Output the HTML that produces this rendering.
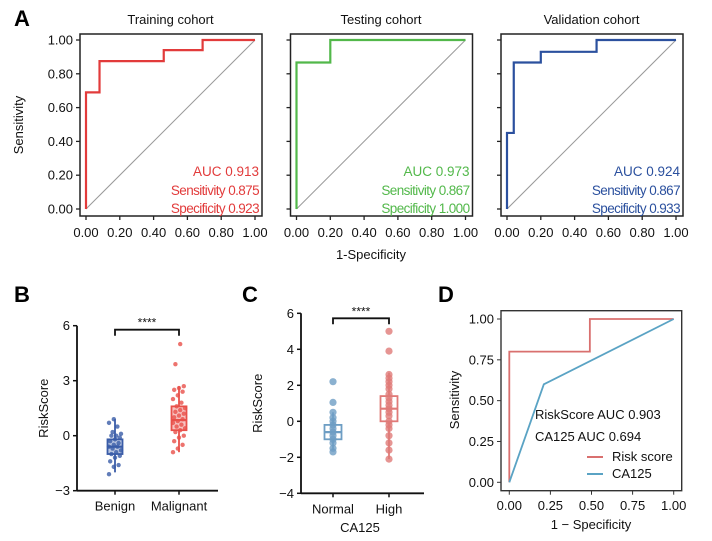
<!DOCTYPE html>
<html><head><meta charset="utf-8"><style>
body{margin:0;background:#fff;}
svg{display:block;font-family:"Liberation Sans",Arial,sans-serif;}
</style></head><body>
<svg id="fig" width="712" height="541" viewBox="0 0 712 541"></svg>
<script>
// ---------- Data ----------
const rocTicks = [0, 0.2, 0.4, 0.6, 0.8, 1.0];
const rocTickLabels = ["0.00","0.20","0.40","0.60","0.80","1.00"];
const trainFpr = [0,0,0.08,0.08,0.46,0.46,0.69,0.69,1];
const trainTpr = [0,0.69,0.69,0.875,0.875,0.94,0.94,1,1];
const testFpr = [0,0,0.2,0.2,1];
const testTpr = [0,0.867,0.867,1,1];
const valFpr = [0,0,0.04,0.04,0.2,0.2,0.53,0.53,1];
const valTpr = [0,0.45,0.45,0.867,0.867,0.93,0.93,1,1];
const cohortTitles = ["Training cohort","Testing cohort","Validation cohort"];
const cohortStats = [["AUC 0.913","Sensitivity 0.875","Specificity 0.923"],["AUC 0.973","Sensitivity 0.867","Specificity 1.000"],["AUC 0.924","Sensitivity 0.867","Specificity 0.933"]];

const bCategories = ["Benign","Malignant"];
const bTicks = [-3,0,3,6];
const bBox = [[-2.0,-1.0,-0.6,-0.2,0.9],[-0.9,0.3,0.85,1.6,2.7]];
const bPoints = [[-2.1,-1.7,-1.6,-1.4,-1.2,-1.1,-1.0,-0.9,-0.8,-0.7,-0.6,-0.6,-0.5,-0.4,-0.3,-0.2,-0.1,0,0,0.1,0.2,0.5,0.7,0.9],
 [-0.9,-0.7,-0.5,-0.3,-0.1,0,0.2,0.3,0.4,0.5,0.6,0.7,0.8,0.9,1.0,1.1,1.2,1.3,1.4,1.5,1.6,1.8,2.0,2.2,2.4,2.5,2.6,2.7,3.9,5.0]];

const cCategories = ["Normal","High"];
const cTicks = [-4,-2,0,2,4,6];
const cBox = [[-1.6,-1.0,-0.6,-0.2,0.5],[-2.1,0,0.7,1.4,2.7]];
const cPoints = [[-1.7,-1.5,-1.2,-1.0,-0.8,-0.6,-0.4,-0.2,0,0.2,0.5,1.05,2.2],
 [-2.1,-1.6,-1.2,-0.8,-0.4,-0.2,0,0.3,0.5,0.7,0.9,1.1,1.3,1.5,1.8,2.0,2.2,2.4,2.6,3.9,5.0]];

const dTicks = [0,0.25,0.5,0.75,1];
const dTickLabels = ["0.00","0.25","0.50","0.75","1.00"];
const riskFpr = [0,0,0.49,0.49,1];
const riskTpr = [0,0.8,0.8,1,1];
const caFpr = [0,0.21,1];
const caTpr = [0,0.6,1];

// ---------- Helpers ----------
const NS="http://www.w3.org/2000/svg";
const svg=document.getElementById('fig');
function mk(tag,attrs,parent){const e=document.createElementNS(NS,tag);for(const k in attrs)e.setAttribute(k,attrs[k]);(parent||svg).appendChild(e);return e;}
function txt(s,x,y,attrs,parent){const e=mk('text',Object.assign({x:x,y:y,'font-size':12,fill:'#111'},attrs||{}),parent);e.textContent=s;return e;}
function lin(d0,d1,r0,r1){return v=>r0+(v-d0)/(d1-d0)*(r1-r0);}

[["A",14,26],["B",14,302],["C",242,302],["D",438,302]].forEach(p=>{
  const t=txt(p[0],p[1],p[2],{'font-size':22,'font-weight':'bold',fill:'#000'});
  
  
});

// ---------- Panel A ----------
const aColors=["#e23b3b","#52b84a","#2b509e"];
const aData=[[trainFpr,trainTpr],[testFpr,testTpr],[valFpr,valTpr]];
for(let i=0;i<3;i++){
  const off=i*210.5;
  const g=mk('g',{});
  
  
  const x=lin(0,1,86+off,255+off), y=lin(0,1,209,40);
  const t=txt(cohortTitles[i],170.5+off,24,{'text-anchor':'middle','font-size':13},g);
  
  
  mk('line',{x1:x(0),y1:y(0),x2:x(1),y2:y(1),stroke:'#999','stroke-width':1},g);
  let pts=aData[i][0].map((f,k)=>x(f)+','+y(aData[i][1][k])).join(' ');
  const pl=mk('polyline',{points:pts,fill:'none',stroke:aColors[i],'stroke-width':2.2},g);
  
  
  mk('rect',{x:80+off,y:34,width:182,height:182,fill:'none',stroke:'#222','stroke-width':1.5},g);
  rocTicks.forEach((v,k)=>{
    mk('line',{x1:x(v),y1:216,x2:x(v),y2:220,stroke:'#222','stroke-width':1.3},g);
    txt(rocTickLabels[k],x(v),237,{'text-anchor':'middle','font-size':13},g);
    mk('line',{x1:76+off,y1:y(v),x2:80+off,y2:y(v),stroke:'#222','stroke-width':1.3},g);
    if(i===0) txt(rocTickLabels[k],73,y(v)+4.5,{'text-anchor':'end','font-size':13},g);
  });
  cohortStats[i].forEach((s,k)=>{
    const st=txt(s,259+off,[176,195,213][k],{'text-anchor':'end','font-size':13.5,fill:aColors[i],'letter-spacing':k===0?0:-0.6},g);
    
    
  });
}
const axA=txt("1-Specificity",371,259,{'text-anchor':'middle','font-size':13});


const ayA=txt("Sensitivity",0,0,{'text-anchor':'middle','font-size':13,transform:'translate(23,125) rotate(-90)'});



// ---------- Box panels ----------
function boxPanel(opt){
  const g=mk('g',{});
  
  
  const y=lin(opt.ticks[0],opt.ticks[opt.ticks.length-1],opt.yb,opt.yt);
  mk('line',{x1:opt.ax,y1:opt.yt,x2:opt.ax,y2:opt.yb,stroke:'#111','stroke-width':1.8},g);
  mk('line',{x1:opt.ax,y1:opt.yb,x2:opt.axr,y2:opt.yb,stroke:'#111','stroke-width':1.8},g);
  opt.ticks.forEach(v=>{
    mk('line',{x1:opt.ax-4,y1:y(v),x2:opt.ax,y2:y(v),stroke:'#111','stroke-width':1.5},g);
    txt(v<0?'\u2212'+(-v):String(v),opt.ax-7,y(v)+4.5,{'text-anchor':'end','font-size':13},g);
  });
  opt.cats.forEach((c,i)=>{
    const cx=opt.cx[i];
    mk('line',{x1:cx,y1:opt.yb,x2:cx,y2:opt.yb+4,stroke:'#111','stroke-width':1.5},g);
    txt(c,cx,opt.yb+20,{'text-anchor':'middle','font-size':13},g);
    const b=opt.box[i], col=opt.colors[i], hw=opt.hw;
    const bg=mk('g',{},g);
    
    
    mk('line',{x1:cx,y1:y(b[0]),x2:cx,y2:y(b[1]),stroke:col,'stroke-width':1.8},bg);
    mk('line',{x1:cx,y1:y(b[3]),x2:cx,y2:y(b[4]),stroke:col,'stroke-width':1.8},bg);
    mk('rect',{x:cx-hw,y:y(b[3]),width:2*hw,height:y(b[1])-y(b[3]),fill:opt.fill?col:'none','fill-opacity':0.35,stroke:col,'stroke-width':1.8},bg);
    mk('line',{x1:cx-hw,y1:y(b[2]),x2:cx+hw,y2:y(b[2]),stroke:col,'stroke-width':2.2},bg);
    opt.points[i].forEach((v,k)=>{
      const jit=opt.jit?((k*37%11)-5)/5*opt.jit:0;
      const p=mk('circle',{cx:cx+jit,cy:y(v),r:opt.r,fill:col,'fill-opacity':0.8},bg);
      
      
    });
  });
  const by=y(opt.ticks[opt.ticks.length-1])+opt.bro;
  mk('path',{d:`M${opt.cx[0]},${by+6} V${by} H${opt.cx[1]} V${by+6}`,fill:'none',stroke:'#111','stroke-width':1.8},g);
  txt('****',(opt.cx[0]+opt.cx[1])/2,by-3,{'text-anchor':'middle','font-size':12},g);
  const yl=txt('RiskScore',0,0,{'text-anchor':'middle','font-size':13,transform:`translate(${opt.ylx},${(opt.yt+opt.yb)/2}) rotate(-90)`},g);
  
  
  return g;
}
boxPanel({name:'panel-b-boxplot',ticks:bTicks,yt:325.7,yb:490.7,ax:77,axr:218,cx:[115,179],cats:bCategories,box:bBox,points:bPoints,colors:['#3a5ca8','#e8504a'],hw:7.5,r:2.2,jit:6,fill:true,bro:4,ylx:48});
boxPanel({name:'panel-c-boxplot',ticks:cTicks,yt:313.3,yb:493.3,ax:301,axr:424,cx:[333,389],cats:cCategories,box:cBox,points:cPoints,colors:['#6e9ec4','#e07a78'],hw:8.5,r:3.6,jit:0,fill:false,bro:5,ylx:262});
const cx125=txt('CA125',360,532,{'text-anchor':'middle','font-size':13});



// ---------- Panel D ----------
(function(){
  const g=mk('g',{});
  
  
  const x=lin(0,1,509.3,673.7), y=lin(0,1,482.3,319);
  const r=mk('polyline',{points:riskFpr.map((f,k)=>x(f)+','+y(riskTpr[k])).join(' '),fill:'none',stroke:'#d9706f','stroke-width':1.8},g);
  
  
  const c=mk('polyline',{points:caFpr.map((f,k)=>x(f)+','+y(caTpr[k])).join(' '),fill:'none',stroke:'#5aa3c4','stroke-width':1.8},g);
  
  
  mk('rect',{x:501,y:310.7,width:180.7,height:180,fill:'none',stroke:'#333','stroke-width':1.4},g);
  dTicks.forEach((v,k)=>{
    mk('line',{x1:x(v),y1:490.7,x2:x(v),y2:494.7,stroke:'#333'},g);
    txt(dTickLabels[k],x(v),510,{'text-anchor':'middle','font-size':13},g);
    mk('line',{x1:497,y1:y(v),x2:501,y2:y(v),stroke:'#333'},g);
    txt(dTickLabels[k],494,y(v)+4.5,{'text-anchor':'end','font-size':13},g);
  });
  txt('1 \u2212 Specificity',591,529,{'text-anchor':'middle','font-size':13},g);
  txt('Sensitivity',0,0,{'text-anchor':'middle','font-size':13,transform:'translate(459,400) rotate(-90)'},g);
  txt('RiskScore AUC 0.903',535,419,{'font-size':13},g);
  txt('CA125 AUC 0.694',535,441,{'font-size':13},g);
  const l1=mk('g',{},g);
  
  
  mk('line',{x1:587,y1:457,x2:603,y2:457,stroke:'#d9706f','stroke-width':2},l1);
  txt('Risk score',612,461,{'font-size':13},l1);
  const l2=mk('g',{},g);
  
  
  mk('line',{x1:587,y1:474,x2:603,y2:474,stroke:'#5aa3c4','stroke-width':2},l2);
  txt('CA125',612,478,{'font-size':13},l2);
})();
</script>
</body></html>
